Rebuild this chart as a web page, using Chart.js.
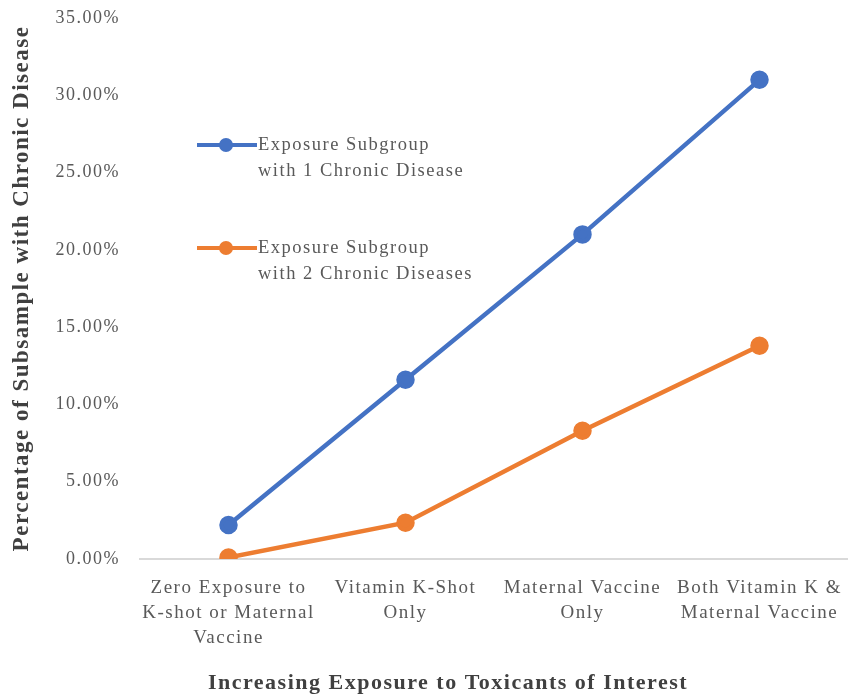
<!DOCTYPE html>
<html>
<head>
<meta charset="utf-8">
<script src="https://cdn.jsdelivr.net/npm/chart.js@4/dist/chart.umd.min.js"></script>
<style>
  html, body { margin: 0; padding: 0; background: #ffffff; }
  #wrap { width: 848px; height: 700px; }
</style>
</head>
<body>
<div id="wrap"><canvas id="chart" width="848" height="700"></canvas></div>
<script>
const chartCanvas = document.getElementById('chart');
const ctx = chartCanvas.getContext('2d');

// categories along the x axis (multi-line labels)
const categories = [
  ['Zero Exposure to', 'K-shot or Maternal', 'Vaccine'],
  ['Vitamin K-Shot', 'Only'],
  ['Maternal Vaccine', 'Only'],
  ['Both Vitamin K &', 'Maternal Vaccine']
];

// percentages
const oneDisease = [2.2, 11.6, 21.0, 31.0];
const twoDiseases = [0.1, 2.35, 8.3, 13.8];

const seriesNames = [
  ['Exposure Subgroup', 'with 1 Chronic Disease'],
  ['Exposure Subgroup', 'with 2 Chronic Diseases']
];

const yTicks = [0, 5, 10, 15, 20, 25, 30, 35];

const xTitle = 'Increasing Exposure to Toxicants of Interest';
const yTitle = 'Percentage of Subsample with Chronic Disease';

const blue = '#4472C4';
const orange = '#ED7D31';
const serif = "'Liberation Serif', 'DejaVu Serif', serif";

//The original text is a wide Garamond, so open the letters up a bit
const wideText = {
  id: 'wideText',
  beforeUpdate(chart) {
    chart.ctx.letterSpacing = '1.5px';
  },
  beforeDraw(chart) {
    chart.ctx.letterSpacing = '1.5px';
  }
};

//x title sits centred on the whole picture, not on the plot area
const bottomTitle = {
  id: 'bottomTitle',
  afterDraw(chart) {
    const c = chart.ctx;
    c.save();
    c.fillStyle = '#404040';
    c.font = 'bold 22px ' + serif;
    c.textAlign = 'center';
    c.textBaseline = 'middle';
    c.fillText(xTitle, 448, 683);
    c.restore();
  }
};

//Legend drawn inside the plot, the way the original has it
const insideLegend = {
  id: 'insideLegend',
  afterDraw(chart) {
    const c = chart.ctx;
    const spots = [{ x: 197, y: 145 }, { x: 197, y: 248 }];
    chart.data.datasets.forEach((ds, i) => {
      const s = spots[i];
      c.save();
      c.strokeStyle = ds.borderColor;
      c.lineWidth = 4;
      c.beginPath();
      c.moveTo(s.x, s.y);
      c.lineTo(s.x + 60, s.y);
      c.stroke();
      c.fillStyle = ds.borderColor;
      c.beginPath();
      c.arc(s.x + 29, s.y, 7, 0, Math.PI * 2);
      c.fill();
      c.fillStyle = '#595959';
      c.font = '18.5px ' + serif;
      c.textBaseline = 'middle';
      seriesNames[i].forEach((line, j) => {
        c.fillText(line, s.x + 61, s.y + j * 26);
      });
      c.restore();
    });
  }
};

const chart = new Chart(ctx, {
  type: 'line',
  data: {
    labels: categories,
    datasets: [{
      label: seriesNames[0].join(' '),
      data: oneDisease,
      borderColor: blue,
      backgroundColor: blue,
      borderWidth: 4.5,
      pointRadius: 7,
      pointHoverRadius: 7,
      tension: 0
    }, {
      label: seriesNames[1].join(' '),
      data: twoDiseases,
      borderColor: orange,
      backgroundColor: orange,
      borderWidth: 4.5,
      pointRadius: 7,
      pointHoverRadius: 7,
      tension: 0
    }]
  },
  options: {
    responsive: false,
    animation: false,
    events: [],
    layout: {
      autoPadding: false,
      padding: { top: 18, right: 0, bottom: 4, left: 0 }
    },
    plugins: {
      legend: { display: false },
      tooltip: { enabled: false }
    },
    scales: {
      x: {
        offset: true,
        grid: { display: false },
        border: { display: true, color: '#d9d9d9', width: 2 },
        ticks: {
          color: '#595959',
          font: { family: serif, size: 19, lineHeight: 1.32 },
          padding: 8,
          maxRotation: 0,
          autoSkip: false
        },
        title: { display: false },
        afterFit(scale) {
          scale.height = 137;
          scale.paddingLeft = 0;
          scale.paddingRight = 0;
        }
      },
      y: {
        min: 0,
        max: 35,
        grid: { display: false },
        border: { display: false },
        afterBuildTicks(scale) {
          scale.ticks = yTicks.map(v => ({ value: v }));
        },
        ticks: {
          color: '#595959',
          font: { family: serif, size: 18 },
          padding: 12,
          callback: v => v.toFixed(2) + '%'
        },
        title: {
          display: true,
          text: yTitle,
          color: '#404040',
          font: { family: serif, size: 23, weight: 'bold' },
          padding: { top: 8, bottom: 0 }
        },
        afterFit(scale) {
          scale.width = 140;
          scale.paddingTop = 0;
          scale.paddingBottom = 0;
        }
      }
    }
  },
  plugins: [wideText, bottomTitle, insideLegend]
});
</script>
</body>
</html>
